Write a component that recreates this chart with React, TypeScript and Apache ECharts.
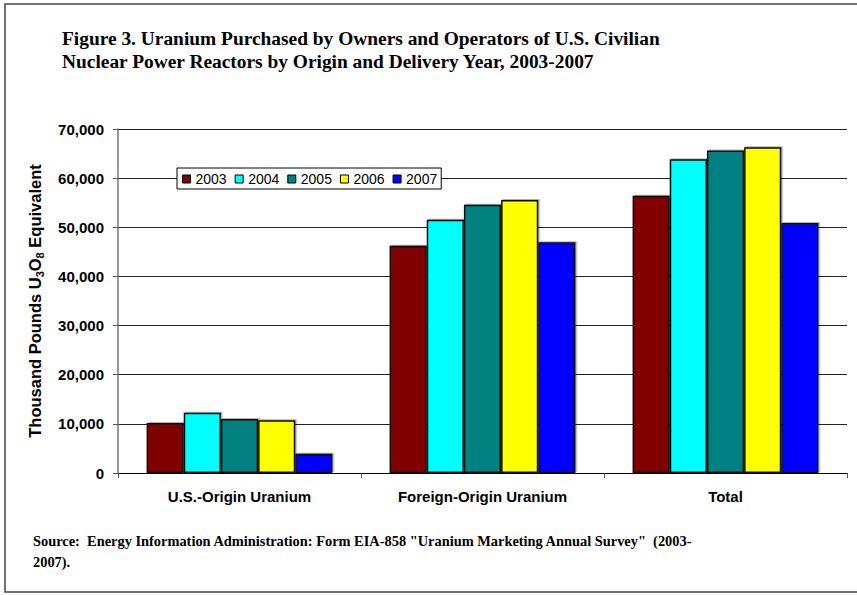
import React, { useEffect, useRef } from "react";
import * as echarts from "echarts";

const categories = ["U.S.-Origin Uranium", "Foreign-Origin Uranium", "Total"];
const years = ["2003", "2004", "2005", "2006", "2007"];
const colors = ["#800000", "#00FFFF", "#008080", "#FFFF00", "#0000FF"];
const v2003 = [10180, 46260, 56440];
const v2004 = [12280, 51550, 63830];
const v2005 = [11000, 54600, 65600];
const v2006 = [10730, 55560, 66290];
const v2007 = [3930, 46950, 50880];
const seriesValues = [v2003, v2004, v2005, v2006, v2007];
const yTicks = [0, 10000, 20000, 30000, 40000, 50000, 60000, 70000];

const titleText =
  "Figure 3. Uranium Purchased by Owners and Operators of U.S. Civilian\nNuclear Power Reactors by Origin and Delivery Year, 2003-2007";
const sourceText =
  'Source:  Energy Information Administration: Form EIA-858 "Uranium Marketing Annual Survey"  (2003-\n2007).';

const SANS = "'Liberation Sans', Arial, sans-serif";
const SERIF = "'Liberation Serif', 'Times New Roman', serif";

export default function App() {
  const ref = useRef<HTMLDivElement>(null);
  useEffect(() => {
    document.body.style.margin = "0";
    const chart = echarts.init(ref.current!, undefined, { renderer: "svg" });
    chart.setOption({
      animation: false,
      backgroundColor: "#ffffff",
      textStyle: { fontFamily: SANS },
      title: {
        text: titleText,
        left: 62,
        top: 27,
        padding: 0,
        textStyle: {
          fontFamily: SERIF,
          fontWeight: "bold",
          fontSize: 19.4,
          lineHeight: 23,
          color: "#000",
        },
      },
      legend: {
        left: 177,
        top: 168,
        orient: "horizontal",
        data: years,
        icon: "rect",
        itemWidth: 8,
        itemHeight: 8,
        itemGap: 8,
        padding: [4, 4, 3, 5],
        backgroundColor: "#fff",
        borderColor: "#000",
        borderWidth: 1,
        borderRadius: 0,
        itemStyle: { borderColor: "#000", borderWidth: 1 },
        textStyle: { fontFamily: SANS, fontSize: 14, color: "#000" },
      },
      grid: { left: 118, right: 10, top: 129, bottom: 122, containLabel: false },
      xAxis: {
        type: "category",
        data: categories,
        axisLine: { show: true, lineStyle: { color: "#000", width: 1 } },
        axisTick: { show: true, length: 5, lineStyle: { color: "#555" } },
        axisLabel: {
          fontFamily: SANS,
          fontWeight: "bold",
          fontSize: 15,
          color: "#000",
          margin: 16,
        },
      },
      yAxis: {
        type: "value",
        min: yTicks[0],
        max: yTicks[yTicks.length - 1],
        interval: 10000,
        name: "{m|Thousand Pounds U}{s|3}{m|O}{s|8}{m| Equivalent}",
        nameLocation: "middle",
        nameGap: 73,
        nameRotate: 90,
        nameTextStyle: {
          rich: {
            m: {
              fontFamily: SANS,
              fontWeight: "bold",
              fontSize: 16.5,
              color: "#000",
              lineHeight: 21,
              verticalAlign: "middle",
            },
            s: {
              fontFamily: SANS,
              fontWeight: "bold",
              fontSize: 11,
              color: "#000",
              lineHeight: 21,
              verticalAlign: "bottom",
            },
          },
        },
        axisLine: { show: true, lineStyle: { color: "#777", width: 1.5 } },
        axisTick: { show: true, inside: false, length: 5, lineStyle: { color: "#555" } },
        splitLine: { show: true, lineStyle: { color: "#222", width: 1 } },
        axisLabel: {
          fontFamily: SANS,
          fontWeight: "bold",
          fontSize: 15,
          color: "#000",
          margin: 14,
          formatter: (v: number) => v.toLocaleString("en-US"),
        },
      },
      series: years.map((y, i) => ({
        name: y,
        type: "bar",
        data: seriesValues[i],
        barGap: "0%",
        barCategoryGap: "23.5%",
        itemStyle: {
          color: colors[i],
          borderColor: "#111",
          borderWidth: 1.5,
          shadowColor: "rgba(0,0,0,0.3)",
          shadowOffsetX: 1.5,
          shadowOffsetY: -1,
          shadowBlur: 0,
        },
        emphasis: { disabled: true },
      })),
      graphic: [
        {
          type: "rect",
          shape: { x: 5, y: 4, width: 900, height: 588 },
          style: { fill: "none", stroke: "#444", lineWidth: 1.5 },
          silent: true,
          z: 100,
        },
        {
          type: "text",
          x: 33,
          y: 530,
          style: {
            text: sourceText,
            fontFamily: SERIF,
            fontWeight: "bold",
            fontSize: 14.4,
            lineHeight: 21,
            fill: "#000",
          },
        },
      ],
    });
    return () => chart.dispose();
  }, []);
  return <div ref={ref} style={{ width: 857, height: 595 }} />;
}
